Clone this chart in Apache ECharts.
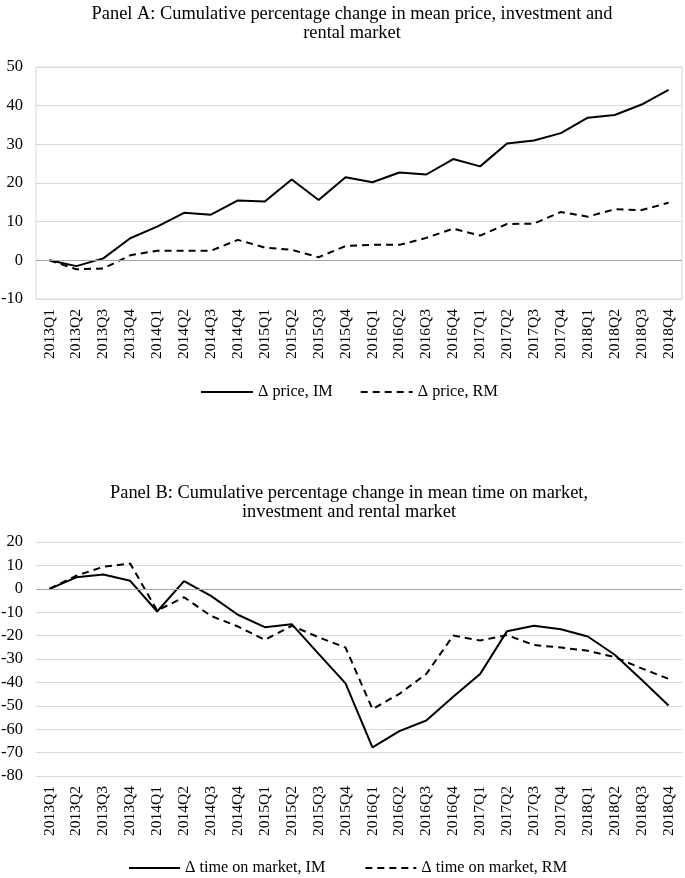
<!DOCTYPE html>
<html>
<head>
<meta charset="utf-8">
<script src="https://cdn.jsdelivr.net/npm/echarts@6/dist/echarts.min.js"></script>
<style>
  html, body { margin: 0; padding: 0; background: #fff; }
  #chart { width: 685px; height: 878px; }
</style>
</head>
<body>
<div id="chart"></div>
<script>
// quarters on the x axis (both panels)
const quarters = [
  '2013Q1', '2013Q2', '2013Q3', '2013Q4',
  '2014Q1', '2014Q2', '2014Q3', '2014Q4',
  '2015Q1', '2015Q2', '2015Q3', '2015Q4',
  '2016Q1', '2016Q2', '2016Q3', '2016Q4',
  '2017Q1', '2017Q2', '2017Q3', '2017Q4',
  '2018Q1', '2018Q2', '2018Q3', '2018Q4'
];

// Panel A: cumulative % change in mean price
const priceIM = [0, -1.5, 0.5, 5.7, 8.7, 12.3, 11.8, 15.5, 15.2, 20.9, 15.6, 21.5,
  20.2, 22.7, 22.2, 26.2, 24.3, 30.2, 31.0, 32.9, 36.9, 37.6, 40.3, 44.1];
const priceRM = [0, -2.3, -2.1, 1.3, 2.5, 2.5, 2.5, 5.3, 3.3, 2.7, 0.8, 3.7,
  4.0, 4.0, 5.8, 8.2, 6.4, 9.4, 9.5, 12.5, 11.3, 13.2, 13.0, 14.9];

// Panel B: cumulative % change in mean time on market
const tomIM = [0, 4.9, 6.1, 3.4, -9.7, 3.3, -3.0, -11.1, -16.4, -15.1, -27.8, -40.4,
  -67.8, -60.8, -56.3, -46.1, -36.4, -18.1, -15.8, -17.3, -20.4, -28.2, -38.9, -49.9];
const tomRM = [0, 5.6, 9.4, 10.8, -9.3, -3.6, -11.6, -16.1, -21.8, -15.8, -20.7, -25.1,
  -51.4, -44.9, -36.4, -20.0, -22.1, -19.8, -24.0, -25.1, -26.5, -29.2, -34.0, -38.5];

const titleA = 'Panel A: Cumulative percentage change in mean price, investment and\nrental market';
const titleB = 'Panel B: Cumulative percentage change in mean time on market,\ninvestment and rental market';

const font = 'Liberation Serif';
const gridGray = '#d9d9d9';
const zeroGray = '#a6a6a6';

const chart = echarts.init(document.getElementById('chart'), null, { renderer: 'canvas' });

function xAxisFor(gridIndex) {
  return {
    type: 'category',
    gridIndex: gridIndex,
    data: quarters,
    boundaryGap: true,
    axisLine: { show: false },
    axisTick: { show: false },
    axisLabel: {
      rotate: 90,
      interval: 0,
      margin: 10,
      color: '#000',
      fontFamily: font,
      fontSize: 15.5
    },
    splitLine: { show: false }
  };
}

function yAxisFor(gridIndex, min, max) {
  return {
    type: 'value',
    gridIndex: gridIndex,
    min: min,
    max: max,
    interval: 10,
    axisLine: { show: false },
    axisTick: { show: false },
    axisLabel: {
      margin: 13,
      color: '#000',
      fontFamily: font,
      fontSize: 16.5
    },
    splitLine: { show: true, lineStyle: { color: gridGray, width: 1 } }
  };
}

function zeroLine() {
  return {
    silent: true,
    symbol: 'none',
    label: { show: false },
    lineStyle: { color: zeroGray, width: 1, type: 'solid' },
    data: [{ yAxis: 0 }]
  };
}

function lineSeries(name, data, idx, dashed, withZero) {
  const s = {
    name: name,
    type: 'line',
    xAxisIndex: idx,
    yAxisIndex: idx,
    data: data,
    symbol: 'none',
    smooth: false,
    z: 3,
    lineStyle: { color: '#000', width: 2, type: dashed ? [7, 5] : 'solid' },
    itemStyle: { color: '#000' },
    emphasis: { disabled: true }
  };
  if (withZero) s.markLine = zeroLine();
  return s;
}

const legendText = { color: '#000', fontFamily: font, fontSize: 16.2 };
// hide the circle ECharts puts on line legend icons
const noSymbol = { color: 'transparent', borderColor: 'transparent', borderWidth: 0, opacity: 0 };
const titleText = { color: '#000', fontFamily: font, fontSize: 18.4, fontWeight: 'normal', lineHeight: 19 };

const option = {
  backgroundColor: '#fff',
  animation: false,
  title: [
    { text: titleA, left: 347, top: 0, textAlign: 'center', textStyle: titleText },
    { text: titleB, left: 344, top: 479, textAlign: 'center', textStyle: titleText }
  ],
  legend: [
    {
      data: ['Δ price, IM', 'Δ price, RM'],
      left: 195,
      top: 379,
      itemWidth: 52,
      itemHeight: 10,
      itemGap: 27,
      itemStyle: noSymbol,
      textStyle: legendText,
      selectedMode: false
    },
    {
      data: ['Δ time on market, IM', 'Δ time on market, RM'],
      left: 123,
      top: 855,
      itemWidth: 51,
      itemHeight: 10,
      itemGap: 39,
      itemStyle: noSymbol,
      textStyle: legendText,
      selectedMode: false
    }
  ],
  grid: [
    {
      left: 36, right: 3, top: 67, height: 232, outerBoundsMode: 'none',
      show: true, borderColor: gridGray, borderWidth: 1, backgroundColor: 'transparent'
    },
    { left: 36, right: 3, top: 542, height: 234, outerBoundsMode: 'none', show: false }
  ],
  xAxis: [xAxisFor(0), xAxisFor(1)],
  yAxis: [yAxisFor(0, -10, 50), yAxisFor(1, -80, 20)],
  series: [
    lineSeries('Δ price, IM', priceIM, 0, false, true),
    lineSeries('Δ price, RM', priceRM, 0, true, false),
    lineSeries('Δ time on market, IM', tomIM, 1, false, true),
    lineSeries('Δ time on market, RM', tomRM, 1, true, false)
  ]
};

chart.setOption(option);
</script>
</body>
</html>
